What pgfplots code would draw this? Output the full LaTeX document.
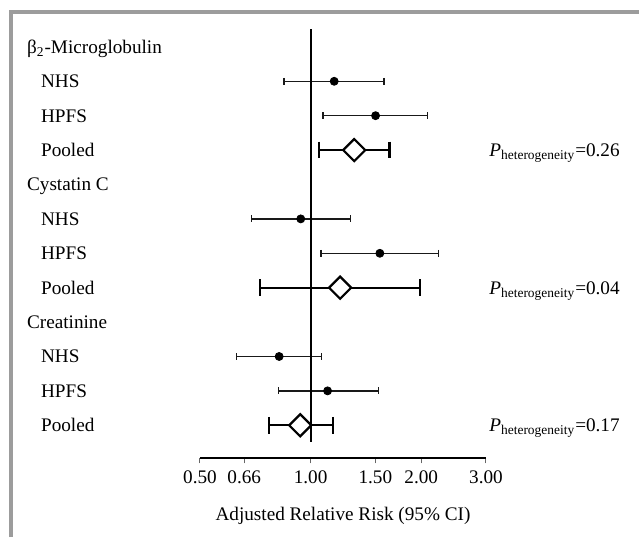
\documentclass[border=0pt]{standalone}
\usepackage{fontspec}
\setmainfont{Liberation Serif}
\usepackage{pgfplots}
\pgfplotsset{compat=1.18}
\definecolor{framegray}{HTML}{9C9C9C}

\pgfplotsset{
  cohort/.style={black!90, line width=0.65pt, mark=|, mark size=1.7pt, mark options={solid}},
  pooledci/.style={black, line width=1.1pt, mark=|, mark size=4.2pt, mark options={solid}},
}

\begin{document}
\fontsize{9.6}{11.5}\selectfont
\begin{tikzpicture}
\begin{axis}[
  scale only axis, width=143pt, height=214.65pt,
  xmode=log, xmin=0.5, xmax=3, ymin=0.04, ymax=12.52,
  hide y axis, axis x line*=bottom,
  axis line style={line width=0.9pt},
  xtick={0.5,0.66,1,1.5,2,3},
  xticklabels={0.50,0.66,1.00,1.50,2.00,3.00},
  minor xtick={},
  tick align=outside, major tick length=2.5pt,
  tick style={line width=0.5pt, black!60},
  xticklabel style={yshift=-0.5pt},
  /pgf/number format/assume math mode=true,
  xlabel={Adjusted Relative Risk (95\% CI)},
  x label style={at={(axis description cs:0.5,0)}, anchor=base, yshift=-30.85pt},
  clip=false,
]
% confidence intervals, cohorts
\addplot[cohort] coordinates {(0.847,11) (1.583,11)};
\addplot[cohort] coordinates {(1.080,10) (2.081,10)};
\addplot[cohort] coordinates {(0.690,7) (1.284,7)};
\addplot[cohort] coordinates {(1.068,6) (2.226,6)};
\addplot[cohort] coordinates {(0.629,3) (1.070,3)};
\addplot[cohort] coordinates {(0.819,2) (1.531,2)};
% confidence intervals, pooled
\addplot[pooledci] coordinates {(1.053,9) (1.640,9)};
\addplot[pooledci] coordinates {(0.730,5) (1.984,5)};
\addplot[pooledci] coordinates {(0.771,1) (1.152,1)};
% reference line
\addplot[black, line width=1pt] coordinates {(1,0.526) (1,12.52)};
% estimates
\addplot[only marks, mark=*, mark size=2pt, black] coordinates {
  (1.159,11) (1.502,10) (0.940,7) (1.543,6) (0.821,3) (1.112,2)};
\addplot[only marks, mark=square*, mark size=3.9pt, black,
  mark options={rotate=45, fill=white, line width=1.1pt}] coordinates {
  (1.314,9) (1.203,5) (0.937,1)};

\begin{scope}[every node/.style={inner sep=0pt, anchor=base west, yshift=-3.2pt}]
\node[xshift=-86.65pt] at (axis cs:0.5,12) {β\textsubscript{2}-Microglobulin};
\node[xshift=-79.65pt] at (axis cs:0.5,11) {NHS};
\node[xshift=-79.65pt] at (axis cs:0.5,10) {HPFS};
\node[xshift=-79.65pt] at (axis cs:0.5,9) {Pooled};
\node[xshift=-86.65pt] at (axis cs:0.5,8) {Cystatin C};
\node[xshift=-79.65pt] at (axis cs:0.5,7) {NHS};
\node[xshift=-79.65pt] at (axis cs:0.5,6) {HPFS};
\node[xshift=-79.65pt] at (axis cs:0.5,5) {Pooled};
\node[xshift=-86.65pt] at (axis cs:0.5,4) {Creatinine};
\node[xshift=-79.65pt] at (axis cs:0.5,3) {NHS};
\node[xshift=-79.65pt] at (axis cs:0.5,2) {HPFS};
\node[xshift=-79.65pt] at (axis cs:0.5,1) {Pooled};
\node[xshift=1.5pt] at (axis cs:3,9) {\textit{P}\textsubscript{heterogeneity}=0.26};
\node[xshift=1.5pt] at (axis cs:3,5) {\textit{P}\textsubscript{heterogeneity}=0.04};
\node[xshift=1.5pt] at (axis cs:3,1) {\textit{P}\textsubscript{heterogeneity}=0.17};
\end{scope}
\end{axis}
\pgfresetboundingbox
\path[use as bounding box] (-100pt,-39.35pt) rectangle (219.5pt,229.15pt);
\draw[framegray, line width=2pt] (-94.5pt,-39.35pt) -- (-94.5pt,223.05pt) -- (219.5pt,223.05pt);
\end{tikzpicture}
\end{document}
